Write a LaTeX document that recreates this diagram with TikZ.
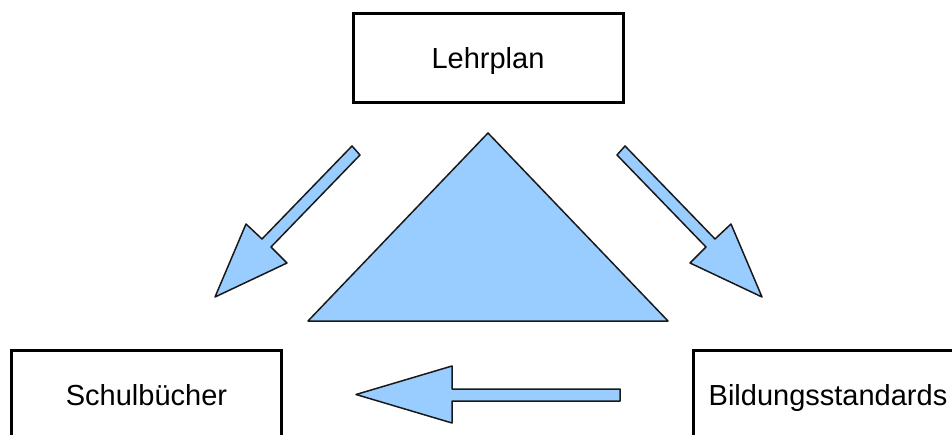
\documentclass[tikz,border=0pt]{standalone}
\usepackage{fontspec}
\setmainfont{Liberation Sans}
\definecolor{shapeblue}{HTML}{99CCFF}
\begin{document}
\begin{tikzpicture}[x=1pt,y=-1pt,
  box/.style={draw=black,line width=3pt,minimum width=270pt,minimum height=89pt,inner sep=0pt,
    font=\fontsize{29}{34}\selectfont,text height=21pt,text depth=0pt,fill=white},
  blueshape/.style={fill=shapeblue,draw=black!90,line width=1.5pt,line join=round}]
\useasboundingbox (0,0) rectangle (952,435);
\clip (0,0) rectangle (952,435);
\node[box] (lehrplan) at (488,58.5) {Lehrplan};
\node[box] (schul) at (146.5,394.5) {Schulbücher};
\node[box] (bildung) at (828,394.5) {Bildungsstandards};
% triangle
\draw[blueshape] (488,133) -- (668,321) -- (308,321) -- cycle;
% arrow Lehrplan -> Schulbuecher
\draw[blueshape] (352,146) -- (262,239) -- (246,224) -- (215,297) -- (287,263) -- (271,247) -- (360,155) -- cycle;
% arrow Lehrplan -> Bildungsstandards
\draw[blueshape] (625,146) -- (715,239) -- (731,224) -- (762,297) -- (690,263) -- (706,247) -- (617,155) -- cycle;
% arrow Bildungsstandards -> Schulbuecher
\draw[blueshape] (620,389) -- (452,389) -- (452,366) -- (356,394.5) -- (452,423) -- (452,401) -- (620,401) -- cycle;
\end{tikzpicture}
\end{document}
